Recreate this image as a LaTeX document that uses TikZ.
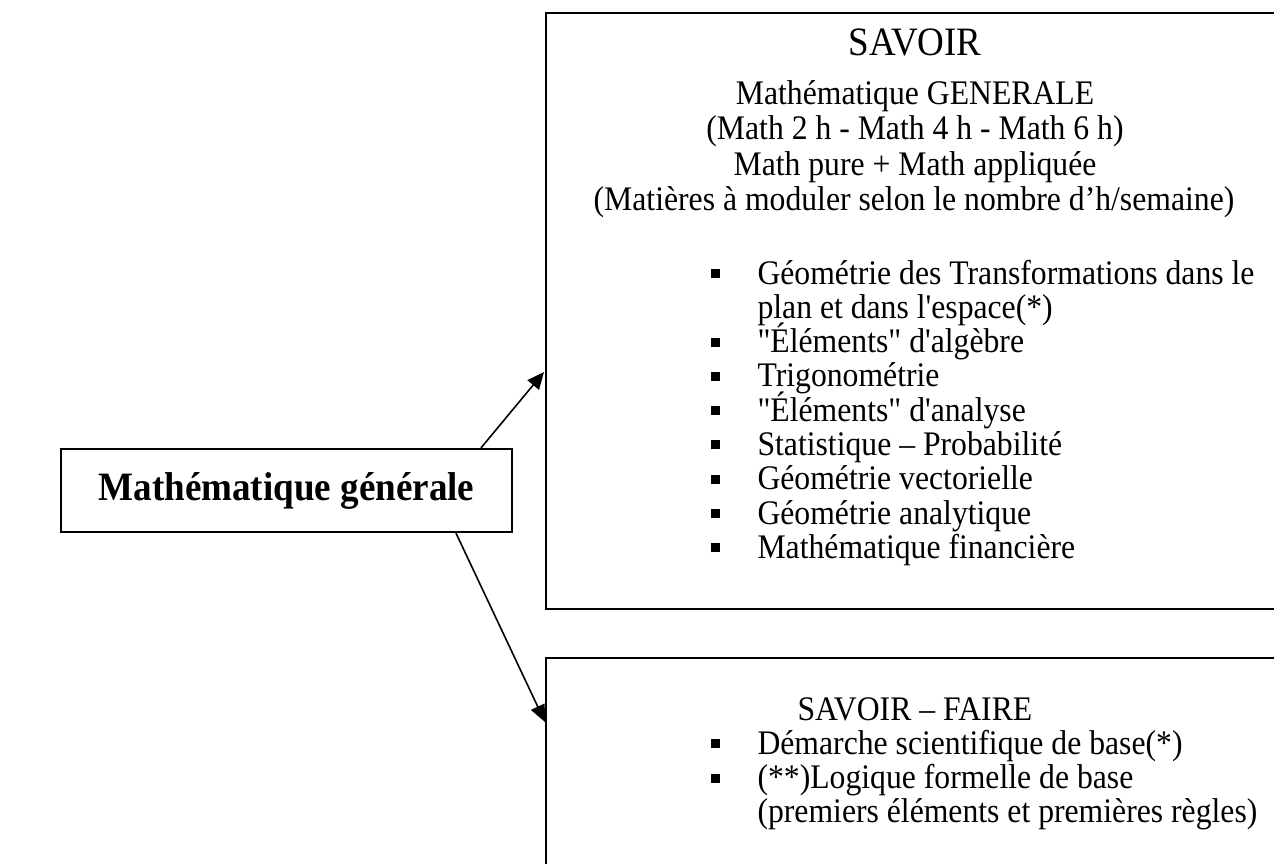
\documentclass[tikz,border=0pt]{standalone}
\usepackage{fontspec}
\setmainfont{Liberation Serif}[FakeStretch=0.92,Ligatures=TeXOff]
\usetikzlibrary{arrows.meta,calc}
\newcommand{\sqbul}{\rule[2.3pt]{3.4pt}{3.4pt}}
\newcommand{\bulitem}[1]{\makebox[17.74pt][l]{\sqbul}#1}
\begin{document}
\begin{tikzpicture}[x=0.3774pt,y=-0.3774pt,
  box/.style={draw,line width=0.8pt,inner sep=0pt},
  txt/.style={inner sep=0pt,font=\fontsize{13}{15}\selectfont},
  ttl/.style={inner sep=0pt,font=\fontsize{15.2}{17}\selectfont},
  line/.style={txt,anchor=base},
  item/.style={txt,anchor=base west},
  conn/.style={line width=0.6pt,-{Triangle[length=6.4pt,width=5.6pt]}}]
\useasboundingbox (0,0) rectangle (1274,863);
\clip (0,0) rectangle (1274,863);
\fill[white] (0,0) rectangle (1274,863);
% boxes
\node[box,anchor=north west,minimum width=281.16pt,minimum height=224.93pt] (savoir) at (545,12) {};
\node[box,anchor=north west,minimum width=281.16pt,minimum height=84.2pt] (savfaire) at (545,657) {};
\node[box,anchor=center,minimum width=170.2pt,minimum height=31.3pt,
      font=\bfseries\fontsize{15.2}{17}\selectfont] (mg) at (286.5,490.5) {Mathématique générale};
% SAVOIR text
\node[ttl,anchor=base] (t0) at (915,55) {SAVOIR};
\node[line] (t1) at (915,104) {Mathématique GENERALE};
\node[line] (t2) at (915,139.5) {(Math 2 h - Math 4 h - Math 6 h)};
\node[line] (t3) at (915,175) {Math pure + Math appliquée};
\node[line] (t4) at (914,210) {(Matières à moduler selon le nombre d’h/semaine)};
% list
\node[item] (i1) at (710,284) {\bulitem{Géométrie des Transformations dans le}};
\node[item] (i1b) at (757,318.3) {plan et dans l'espace(*)};
\node[item] (i2) at (710,352.6) {\bulitem{"Éléments" d'algèbre}};
\node[item] (i3) at (710,386.9) {\bulitem{Trigonométrie}};
\node[item] (i4) at (710,421.2) {\bulitem{"Éléments" d'analyse}};
\node[item] (i5) at (710,455.5) {\bulitem{Statistique – Probabilité}};
\node[item] (i6) at (710,489.8) {\bulitem{Géométrie vectorielle}};
\node[item] (i7) at (710,524.1) {\bulitem{Géométrie analytique}};
\node[item] (i8) at (710,558.4) {\bulitem{Mathématique financière}};
% SAVOIR-FAIRE text
\node[item] (f0) at (797,720) {SAVOIR – FAIRE};
\node[item] (f1) at (710,754.3) {\bulitem{Démarche scientifique de base(*)}};
\node[item] (f2) at (710,788.6) {\bulitem{(**)Logique formelle de base}};
\node[item] (f2b) at (757,822.9) {(premiers éléments et premières règles)};
% connectors
\draw[conn] ($(mg.north west)+(421,0)$) -- ($(savoir.north west)+(-1,360)$);
\draw[conn] ($(mg.south west)+(396,0)$) -- ($(savfaire.north west)+(0,65)$);
\end{tikzpicture}
\end{document}
